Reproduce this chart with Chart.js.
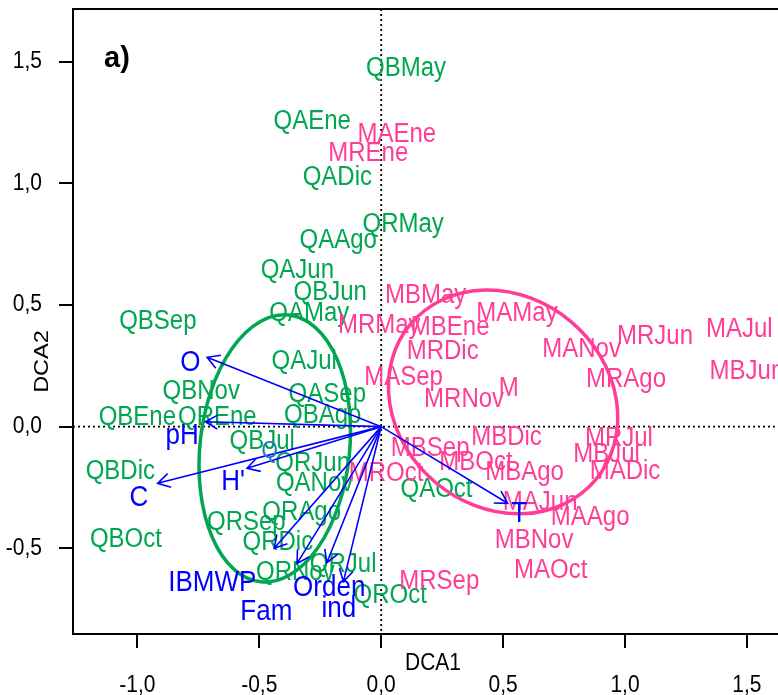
<!DOCTYPE html>
<html>
<head>
<meta charset="utf-8">
<script src="https://cdn.jsdelivr.net/npm/chart.js@4.4.1/dist/chart.umd.min.js"></script>
<style>
html, body { margin: 0; padding: 0; overflow: hidden; background: #fff; }
#wrap { width: 778px; height: 695px; overflow: hidden; }
</style>
</head>
<body>
<div id="wrap"><canvas id="dca" width="800" height="695"></canvas></div>
<script>
// axis ticks and limits
const xTicks = [-1, -0.5, 0, 0.5, 1, 1.5];
const yTicks = [-0.5, 0, 0.5, 1, 1.5];
const xLimits = [-1.264, 1.689];
const yLimits = [-0.852, 1.716];

// Q sites (green)
const qSites = ['QBMay','QAEne','QADic','QRMay','QAAgo','QAJun','QBJun','QAMay','QBSep','QAJul',
  'QBNov','QASep','QBEne','QREne','QBAgo','QBJul','QRJun','QBDic','QANov','QAOct',
  'QRAgo','QRSep','QBOct','QRDic','QRJul','QRNov','QROct'];
const qX = [0.102,-0.283,-0.180,0.090,-0.176,-0.344,-0.209,-0.295,-0.916,-0.316,
  -0.738,-0.221,-1.000,-0.672,-0.240,-0.488,-0.281,-1.070,-0.273,0.227,
  -0.326,-0.553,-1.047,-0.424,-0.156,-0.352,0.037];
const qY = [1.474,1.256,1.024,0.833,0.765,0.642,0.552,0.467,0.432,0.270,
  0.145,0.132,0.040,0.040,0.045,-0.059,-0.149,-0.182,-0.235,-0.256,
  -0.353,-0.394,-0.464,-0.476,-0.564,-0.597,-0.692];

// M sites (pink)
const mSites = ['MAEne','MREne','MBMay','MAMay','MRMay','MBEne','MAJul','MRJun','MANov','MRDic',
  'MBJun','MASep','MRAgo','M','MRNov','MBDic','MRJul','MBSep','MBJul','MBOct',
  'MADic','MBAgo','MROct','MAJun','MAAgo','MBNov','MAOct','MRSep'];
const mX = [0.064,-0.053,0.182,0.557,-0.008,0.283,1.469,1.123,0.822,0.252,
  1.500,0.092,1.004,0.523,0.340,0.514,0.975,0.201,0.924,0.389,
  1.000,0.588,0.020,0.652,0.857,0.627,0.695,0.238];
const mY = [1.199,1.123,0.541,0.467,0.414,0.406,0.398,0.369,0.319,0.311,
  0.225,0.202,0.196,0.159,0.114,-0.044,-0.049,-0.088,-0.112,-0.145,
  -0.182,-0.188,-0.190,-0.312,-0.373,-0.466,-0.589,-0.634];

// environmental vectors (blue)
const envVars = ['O','pH','C',"H'",'IBMWP','Fam','Orden','ind','T'];
const envTipX = [-0.714,-0.721,-0.917,-0.550,-0.439,-0.345,-0.223,-0.155,0.519];
const envTipY = [0.285,0.020,-0.233,-0.171,-0.500,-0.562,-0.559,-0.637,-0.315];
const envLabX = [-0.783,-0.816,-0.994,-0.607,-0.693,-0.471,-0.213,-0.174,0.566];
const envLabY = [0.262,-0.038,-0.291,-0.227,-0.640,-0.762,-0.663,-0.749,-0.359];

// extra label
const extraLabels = ['Q'];
const extraX = [-0.457];
const extraY = [-0.102];

// group ellipses: centre, semi-axes (data units), tilt (degrees)
const ellCx = [-0.4365, 0.500];
const ellCy = [-0.0896, 0.1015];
const ellRx = [0.307, 0.496];
const ellRy = [0.551, 0.432];
const ellTilt = [6, 40];

const GREEN = '#00a650';
const PINK = '#ff3d96';
const BLUE = '#0000ff';
const FONT = '"Liberation Sans", Arial, sans-serif';
const STRETCH = 1.15;

const pts = (xs, ys) => xs.map((x, i) => ({ x: x, y: ys[i] }));

// text is a little taller than the font in the original
function tallText(ctx, str, x, y, k) {
  ctx.save();
  ctx.translate(x, y);
  ctx.scale(1, k || STRETCH);
  ctx.fillText(str, 0, 0);
  ctx.restore();
}

const biplot = {
  id: 'biplot',
  beforeDatasetsDraw(chart) {
    const { ctx, chartArea: a, scales: { x: sx, y: sy } } = chart;
    const x0 = sx.getPixelForValue(0), y0 = sy.getPixelForValue(0);
    ctx.save();
    ctx.strokeStyle = '#000';
    ctx.lineWidth = 1.8;
    ctx.setLineDash([2, 3]);
    ctx.beginPath();
    ctx.moveTo(x0, a.top); ctx.lineTo(x0, a.bottom);
    ctx.moveTo(a.left, y0); ctx.lineTo(a.right, y0);
    ctx.stroke();
    ctx.restore();
  },
  afterDatasetsDraw(chart) {
    const { ctx, chartArea: a, scales: { x: sx, y: sy } } = chart;
    ctx.save();
    ctx.textAlign = 'center';
    ctx.textBaseline = 'middle';

    // site labels
    chart.data.datasets.forEach((ds, di) => {
      if (!ds.siteLabels) return;
      ctx.fillStyle = ds.textColor;
      ctx.font = ds.textFont;
      chart.getDatasetMeta(di).data.forEach((el, i) => {
        tallText(ctx, ds.siteLabels[i], el.x, el.y);
      });
    });

    // ellipses
    const ellColors = [GREEN, PINK];
    ctx.lineWidth = 3.5;
    ellCx.forEach((cx, i) => {
      const px = sx.getPixelForValue(cx), py = sy.getPixelForValue(ellCy[i]);
      const rx = sx.getPixelForValue(cx + ellRx[i]) - px;
      const ry = py - sy.getPixelForValue(ellCy[i] + ellRy[i]);
      ctx.strokeStyle = ellColors[i];
      ctx.beginPath();
      ctx.ellipse(px, py, rx, ry, ellTilt[i] * Math.PI / 180, 0, Math.PI * 2);
      ctx.stroke();
    });

    // arrows
    const x0 = sx.getPixelForValue(0), y0 = sy.getPixelForValue(0);
    ctx.strokeStyle = BLUE;
    ctx.lineWidth = 1.6;
    chart.getDatasetMeta(2).data.forEach(el => {
      const ang = Math.atan2(el.y - y0, el.x - x0), len = 14;
      ctx.beginPath();
      ctx.moveTo(x0, y0); ctx.lineTo(el.x, el.y);
      ctx.moveTo(el.x - len * Math.cos(ang - Math.PI / 6), el.y - len * Math.sin(ang - Math.PI / 6));
      ctx.lineTo(el.x, el.y);
      ctx.lineTo(el.x - len * Math.cos(ang + Math.PI / 6), el.y - len * Math.sin(ang + Math.PI / 6));
      ctx.stroke();
    });

    // vector labels
    chart.data.datasets.forEach((ds, di) => {
      if (!ds.vecLabels) return;
      ctx.fillStyle = ds.textColor;
      ctx.font = ds.textFont;
      chart.getDatasetMeta(di).data.forEach((el, i) => {
        tallText(ctx, ds.vecLabels[i], el.x, el.y);
      });
    });

    // box
    ctx.strokeStyle = '#000';
    ctx.lineWidth = 2;
    ctx.strokeRect(a.left, a.top, a.right - a.left, a.bottom - a.top);

    // tick labels and titles
    ctx.fillStyle = '#000';
    ctx.font = '21px ' + FONT;
    xTicks.forEach(v => tallText(ctx, fmt(v), sx.getPixelForValue(v), a.bottom + 52, 1.12));
    ctx.textAlign = 'right';
    yTicks.forEach(v => tallText(ctx, fmt(v), a.left - 31, sy.getPixelForValue(v), 1.12));
    ctx.textAlign = 'center';
    tallText(ctx, 'DCA1', (a.left + a.right) / 2, a.bottom + 30, 1.12);
    ctx.save();
    ctx.translate(a.left - 31, (a.top + a.bottom) / 2 + 40);
    ctx.rotate(-Math.PI / 2);
    ctx.scale(1.12, 1);
    ctx.fillText('DCA2', 0, 0);
    ctx.restore();
    ctx.font = 'bold 29px ' + FONT;
    ctx.fillText('a)', a.left + 44, a.top + 50);
    ctx.restore();
  }
};

const fmt = v => v.toFixed(1).replace('.', ',');
const noPad = s => { s.paddingTop = 0; s.paddingBottom = 0; s.paddingLeft = 0; s.paddingRight = 0; };

new Chart(document.getElementById('dca'), {
  type: 'scatter',
  data: {
    datasets: [
      { data: pts(qX, qY), pointRadius: 0, siteLabels: qSites, textColor: GREEN, textFont: '24px ' + FONT },
      { data: pts(mX, mY), pointRadius: 0, siteLabels: mSites, textColor: PINK, textFont: '24px ' + FONT },
      { data: pts(envTipX, envTipY), pointRadius: 0 },
      { data: pts(envLabX, envLabY), pointRadius: 0, vecLabels: envVars, textColor: BLUE, textFont: '26px ' + FONT },
      { data: pts(extraX, extraY), pointRadius: 0, vecLabels: extraLabels, textColor: '#1f77c4', textFont: '21px ' + FONT }
    ]
  },
  options: {
    responsive: false,
    animation: false,
    layout: { padding: { left: 0, top: 9, right: 7, bottom: 0 } },
    plugins: { legend: { display: false }, tooltip: { enabled: false } },
    scales: {
      x: {
        type: 'linear',
        min: xLimits[0],
        max: xLimits[1],
        afterBuildTicks: s => { s.ticks = xTicks.map(v => ({ value: v })); },
        afterFit: s => { s.height = 61; noPad(s); },
        grid: { drawOnChartArea: false, tickLength: 14, color: '#000', lineWidth: 2 },
        border: { color: '#000', width: 2 },
        ticks: { display: false }
      },
      y: {
        type: 'linear',
        min: yLimits[0],
        max: yLimits[1],
        afterBuildTicks: s => { s.ticks = yTicks.map(v => ({ value: v })); },
        afterFit: s => { s.width = 73; noPad(s); },
        grid: { drawOnChartArea: false, tickLength: 14, color: '#000', lineWidth: 2 },
        border: { color: '#000', width: 2 },
        ticks: { display: false }
      }
    }
  },
  plugins: [biplot]
});
</script>
</body>
</html>
